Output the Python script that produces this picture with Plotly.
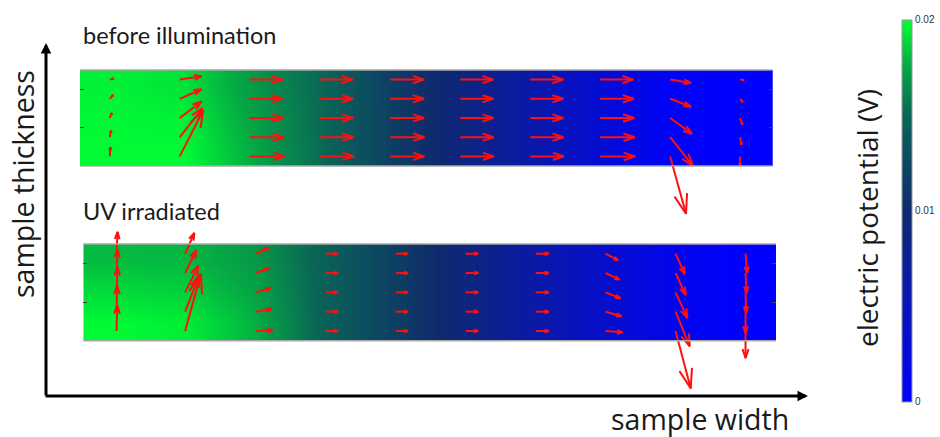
import plotly.graph_objects as go

# ---------------- data ----------------
# heatmap brick edges (sample width / thickness, arbitrary units)
x_edges = [0, 1, 2, 3, 4, 5, 6, 7, 8, 9, 10]
y_edges = [0, 0.3333, 0.6667, 1]

# electric potential (V), rows bottom -> top
pot_before = [
    [0.0199, 0.0199, 0.0176, 0.0151, 0.0117, 0.0088, 0.0060, 0.0030, 0.0006, 0.0],
    [0.0198, 0.0196, 0.0173, 0.0151, 0.0117, 0.0088, 0.0060, 0.0030, 0.0006, 0.0],
    [0.0196, 0.0192, 0.0170, 0.0150, 0.0117, 0.0088, 0.0060, 0.0030, 0.0006, 0.0],
]
pot_uv = [
    [0.0199, 0.0195, 0.0178, 0.0145, 0.0118, 0.0089, 0.0061, 0.0036, 0.0014, 0.0],
    [0.0190, 0.0187, 0.0174, 0.0145, 0.0118, 0.0089, 0.0061, 0.0036, 0.0014, 0.0],
    [0.0181, 0.0180, 0.0170, 0.0145, 0.0118, 0.0089, 0.0061, 0.0036, 0.0014, 0.0],
]

# quiver grid
cols_before = [0.43, 1.44, 2.45, 3.46, 4.48, 5.49, 6.50, 7.51, 8.52, 9.53]
cols_uv = [0.48, 1.47, 2.49, 3.50, 4.51, 5.52, 6.53, 7.54, 8.55, 9.56]
rows = [0.1, 0.3, 0.5, 0.7, 0.9]

# field components (relative units), rows bottom -> top
u_before = [
    [0.02, 0.71, 1.06, 1.04, 1.03, 1.02, 1.02, 1.06, 0.48, 0.00],
    [0.04, 0.69, 1.04, 1.03, 1.03, 1.01, 1.01, 1.05, 0.69, 0.04],
    [0.06, 0.66, 1.02, 1.02, 1.02, 1.00, 1.00, 1.03, 0.66, 0.07],
    [0.10, 0.66, 1.00, 1.01, 1.02, 1.00, 1.00, 1.02, 0.63, 0.08],
    [0.12, 0.66, 1.00, 1.00, 1.02, 1.00, 1.00, 1.00, 0.63, 0.12],
]
v_before = [
    [0.28, 1.40, 0.0, 0.0, 0.0, 0.0, 0.0, 0.0, -1.74, -0.28],
    [0.20, 0.88, 0.0, 0.0, 0.0, 0.0, 0.0, 0.0, -0.87, -0.23],
    [0.15, 0.50, 0.0, 0.0, 0.0, 0.0, 0.0, 0.0, -0.48, -0.20],
    [0.12, 0.29, 0.0, 0.0, 0.0, 0.0, 0.0, 0.0, -0.24, -0.10],
    [0.03, 0.10, 0.0, 0.0, 0.0, 0.0, 0.0, 0.0, -0.10, -0.02],
]
u_uv = [
    [0.02, 0.48, 0.52, 0.37, 0.37, 0.38, 0.40, 0.52, 0.46, 0.00],
    [0.02, 0.45, 0.49, 0.37, 0.37, 0.38, 0.40, 0.48, 0.43, 0.00],
    [0.03, 0.40, 0.45, 0.37, 0.37, 0.38, 0.40, 0.45, 0.36, 0.02],
    [0.03, 0.34, 0.42, 0.37, 0.37, 0.38, 0.40, 0.42, 0.31, 0.03],
    [0.03, 0.28, 0.39, 0.37, 0.37, 0.38, 0.40, 0.38, 0.28, 0.05],
]
v_uv = [
    [0.78, 1.74, 0.02, 0.0, 0.0, 0.0, 0.0, -0.04, -1.74, -0.82],
    [0.79, 1.14, 0.08, 0.0, 0.0, 0.0, 0.0, -0.14, -1.05, -0.65],
    [0.76, 0.81, 0.13, 0.0, 0.0, 0.0, 0.0, -0.18, -0.78, -0.63],
    [0.71, 0.69, 0.16, 0.0, 0.0, 0.0, 0.0, -0.20, -0.67, -0.61],
    [0.66, 0.63, 0.18, 0.0, 0.0, 0.0, 0.0, -0.20, -0.62, -0.59],
]

cb_ticks = [0, 0.01, 0.02]
cb_ticktext = ["0", "0.01", "0.02"]

# ---------------- layout constants ----------------
W, H = 940, 437
# panel pixel boxes: x0, x1, y_top, y_bottom ; view extents (px) for arrows
P_TOP = dict(x0=80, x1=772.7, yt=70, yb=166, vt=60, vb=225)
P_BOT = dict(x0=83.3, x1=776, yt=244, yb=340.7, vt=228, vb=395)
SCALE = 33.0      # px per unit field
ALPHA, BETA = 0.33, 0.33

colorscale = [
    [0.0, "#0000ff"],
    [0.25, "#0815b6"],
    [0.5, "#0f2a6c"],
    [0.75, "#0a6656"],
    [0.875, "#05a545"],
    [1.0, "#00ff33"],
]


def panel_axes(p):
    pxx = (p["x1"] - p["x0"]) / 10.0
    pxy = (p["yb"] - p["yt"]) / 1.0
    xdom = [p["x0"] / W, p["x1"] / W]
    ydom = [1 - p["vb"] / H, 1 - p["vt"] / H]
    yrange = [(p["yb"] - p["vb"]) / pxy, (p["yb"] - p["vt"]) / pxy]
    return pxx, pxy, xdom, ydom, yrange


def quiver(cols, U, V, pxx, pxy):
    xs, ys = [], []
    for i, y0 in enumerate(rows):
        for j, x0 in enumerate(cols):
            dx = U[i][j] * SCALE
            dy = V[i][j] * SCALE
            b1x = dx - ALPHA * (dx + BETA * dy)
            b1y = dy - ALPHA * (dy - BETA * dx)
            b2x = dx - ALPHA * (dx - BETA * dy)
            b2y = dy - ALPHA * (dy + BETA * dx)
            pts = [(0, 0), (dx, dy), None, (b1x, b1y), (dx, dy), (b2x, b2y), None]
            for pt in pts:
                if pt is None:
                    xs.append(None)
                    ys.append(None)
                else:
                    xs.append(x0 + pt[0] / pxx)
                    ys.append(y0 + pt[1] / pxy)
    return xs, ys


fig = go.Figure()

panels = [
    (P_TOP, pot_before, cols_before, u_before, v_before, "x", "y", True),
    (P_BOT, pot_uv, cols_uv, u_uv, v_uv, "x2", "y2", False),
]
shapes = []
for k, (p, pot, cols, U, V, xa, ya, showscale) in enumerate(panels):
    pxx, pxy, xdom, ydom, yrange = panel_axes(p)
    hm = go.Heatmap(
        x=x_edges, y=y_edges, z=pot, xaxis=xa, yaxis=ya,
        colorscale=colorscale, zmin=0, zmax=0.02, zsmooth="best",
        showscale=showscale, hoverinfo="skip",
    )
    if showscale:
        hm.colorbar = dict(
            x=902 / W, xanchor="left", xpad=0, ypad=0,
            y=1 - 210.5 / H, yanchor="middle",
            len=382 / H, lenmode="fraction",
            thickness=10, thicknessmode="pixels",
            outlinewidth=1, outlinecolor="#9a9a9a",
            tickvals=cb_ticks, ticktext=cb_ticktext, ticks="",
            tickfont=dict(size=10, color="#333333", family="Arial"),
        )
    fig.add_trace(hm)
    xs, ys = quiver(cols, U, V, pxx, pxy)
    fig.add_trace(go.Scatter(
        x=xs, y=ys, xaxis=xa, yaxis=ya, mode="lines",
        line=dict(color="#ff1010", width=2), hoverinfo="skip", showlegend=False,
    ))
    sfx = "" if k == 0 else "2"
    fig.layout["xaxis" + sfx] = dict(domain=xdom, range=[0, 10], visible=False,
                                     anchor="y" + sfx)
    fig.layout["yaxis" + sfx] = dict(domain=ydom, range=yrange, showgrid=False,
                                     zeroline=False, showticklabels=False,
                                     ticks="inside", ticklen=4, tickcolor="#444",
                                     tickvals=[0.4, 0.8], mirror="ticks",
                                     showline=False, anchor="x" + sfx)
    for yy in (0, 1):
        shapes.append(dict(type="line", xref=xa, yref=ya, x0=0, x1=10, y0=yy, y1=yy,
                           line=dict(color="#a8a8a8", width=1.5), layer="above"))

TXT = "#1a1a1a"
annotations = [
    dict(text="before illumination", x=81 / W, y=1 - 35 / H, xref="paper", yref="paper",
         xanchor="left", yanchor="middle", showarrow=False,
         font=dict(family="Lato", size=23.5, color=TXT)),
    dict(text="UV irradiated", x=81 / W, y=1 - 211 / H, xref="paper", yref="paper",
         xanchor="left", yanchor="middle", showarrow=False,
         font=dict(family="Lato", size=23.5, color=TXT)),
    dict(text="sample thickness", x=23 / W, y=1 - 184 / H, xref="paper", yref="paper",
         xanchor="center", yanchor="middle", showarrow=False, textangle=-90,
         font=dict(family="Open Sans", size=28.5, color=TXT)),
    dict(text="sample width", x=700 / W, y=1 - 419 / H, xref="paper", yref="paper",
         xanchor="center", yanchor="middle", showarrow=False,
         font=dict(family="Open Sans", size=28.5, color=TXT)),
    dict(text="electric potential (V)", x=867 / W, y=1 - 218 / H, xref="paper", yref="paper",
         xanchor="center", yanchor="middle", showarrow=False, textangle=-90,
         font=dict(family="Open Sans", size=28, color=TXT)),
    # axis arrows
    dict(x=46 / W, y=1 - 43 / H, xref="paper", yref="paper", ax=0, ay=354,
         axref="pixel", ayref="pixel", showarrow=True, arrowhead=2, arrowsize=0.7,
         arrowwidth=3, arrowcolor="#000000", text=""),
    dict(x=808 / W, y=1 - 396 / H, xref="paper", yref="paper", ax=-764, ay=0,
         axref="pixel", ayref="pixel", showarrow=True, arrowhead=2, arrowsize=0.7,
         arrowwidth=3, arrowcolor="#000000", text=""),
]

fig.update_layout(
    width=W, height=H, margin=dict(l=0, r=0, t=0, b=0),
    paper_bgcolor="white", plot_bgcolor="rgba(0,0,0,0)",
    showlegend=False, shapes=shapes, annotations=annotations,
)

fig.write_html("out.html")
